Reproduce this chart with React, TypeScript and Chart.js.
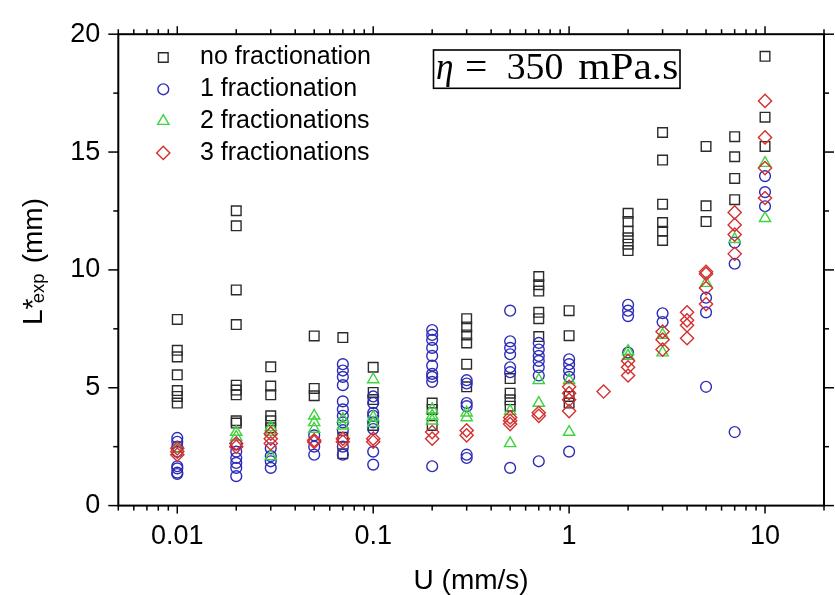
import React, { useEffect, useRef } from "react";
import { Chart, registerables } from "chart.js";

Chart.register(...registerables);

// ---------- data ----------
const xTickValues = [0.01, 0.1, 1, 10];
const xTickLabels = ["0.01", "0.1", "1", "10"];
const yTickValues = [0, 5, 10, 15, 20];

const seriesNames = ["no fractionation", "1 fractionation", "2 fractionations", "3 fractionations"];
const seriesColors = ["#2b2b2b", "#2c2cb8", "#3fd33f", "#d43030"];
const seriesShapes = ["rect", "circle", "triangle", "rectRot"];

// no fractionation (squares)
const noFracU = [
  0.01, 0.01, 0.01, 0.01, 0.01, 0.01, 0.01,
  0.02, 0.02, 0.02, 0.02, 0.02, 0.02, 0.02, 0.02, 0.02,
  0.03, 0.03, 0.03, 0.03, 0.03, 0.03,
  0.05, 0.05, 0.05,
  0.07, 0.07, 0.07,
  0.1, 0.1, 0.1, 0.1,
  0.2, 0.2, 0.2,
  0.3, 0.3, 0.3, 0.3, 0.3, 0.3,
  0.5, 0.5, 0.5, 0.5,
  0.7, 0.7, 0.7, 0.7, 0.7, 0.7,
  1, 1, 1, 1,
  2, 2, 2, 2, 2, 2,
  3, 3, 3, 3, 3, 3,
  5, 5, 5,
  7, 7, 7, 7,
  10, 10, 10,
];
const noFracL = [
  7.9, 6.59, 6.31, 5.55, 4.88, 4.63, 4.35,
  12.51, 11.87, 9.15, 7.68, 5.11, 4.9, 4.7, 3.6, 3.5,
  5.89, 5.07, 4.7, 3.81, 3.6, 3.3,
  7.2, 4.97, 4.66,
  7.13, 2.9, 2.2,
  5.87, 4.8, 4.5, 3.4,
  4.35, 4.08, 3.4,
  7.93, 7.58, 7.24, 6.9, 6.0, 5.04,
  5.39, 4.77, 4.49, 4.22,
  9.72, 9.37, 9.1, 8.2, 7.93, 7.17,
  8.27, 7.21, 4.63, 4.35,
  12.4, 12.05, 11.64, 11.36, 11.09, 10.82,
  15.83, 14.66, 12.79, 12.01, 11.64, 11.25,
  15.24, 12.72, 12.05,
  15.65, 14.8, 13.88, 12.98,
  19.06, 16.48, 15.24,
];

// 1 fractionation (circles)
const oneFracU = [
  0.01, 0.01, 0.01, 0.01, 0.01, 0.01, 0.01, 0.01,
  0.02, 0.02, 0.02, 0.02, 0.02, 0.02,
  0.03, 0.03, 0.03, 0.03,
  0.05, 0.05, 0.05,
  0.07, 0.07, 0.07, 0.07, 0.07, 0.07, 0.07, 0.07, 0.07, 0.07, 0.07,
  0.1, 0.1, 0.1, 0.1, 0.1, 0.1, 0.1, 0.1,
  0.2, 0.2, 0.2, 0.2, 0.2, 0.2, 0.2, 0.2, 0.2, 0.2,
  0.3, 0.3, 0.3, 0.3, 0.3, 0.3,
  0.5, 0.5, 0.5, 0.5, 0.5, 0.5, 0.5,
  0.7, 0.7, 0.7, 0.7, 0.7, 0.7, 0.7,
  1, 1, 1, 1, 1,
  2, 2, 2, 2,
  3, 3,
  5, 5, 5,
  7, 7, 7,
  10, 10, 10,
];
const oneFracL = [
  2.87, 2.71, 2.5, 2.29, 1.67, 1.58, 1.4, 1.34,
  2.6, 2.29, 2.02, 1.81, 1.6, 1.25,
  2.43, 2.1, 1.88, 1.6,
  2.98, 2.5, 2.16,
  6.0, 5.73, 5.46, 5.11, 4.42, 4.08, 3.81, 3.53, 3.2, 2.5, 2.16,
  4.63, 4.35, 3.94, 3.81, 3.53, 3.25, 2.29, 1.74,
  7.45, 7.24, 7.03, 6.69, 6.35, 5.94, 5.59, 5.46, 5.25, 1.67,
  5.32, 5.18, 4.35, 4.22, 2.16, 2.02,
  8.27, 6.97, 6.69, 6.42, 5.87, 5.66, 1.6,
  6.9, 6.62, 6.35, 6.14, 5.87, 5.52, 1.88,
  6.21, 6.0, 5.73, 5.46, 2.29,
  8.52, 8.27, 8.04, 6.49,
  8.16, 7.79,
  8.82, 8.2, 5.04,
  11.16, 10.26, 3.12,
  13.98, 13.3, 12.7,
];

// 2 fractionations (triangles)
const twoFracU = [
  0.01,
  0.02, 0.02,
  0.03, 0.03, 0.03,
  0.05, 0.05, 0.05,
  0.07, 0.07,
  0.1, 0.1, 0.1,
  0.2, 0.2, 0.2,
  0.3, 0.3,
  0.5, 0.5,
  0.7, 0.7,
  1, 1,
  2, 2,
  3, 3,
  5,
  7,
  10, 10,
];
const twoFracL = [
  2.4,
  3.12, 2.91,
  3.32, 3.12, 2.09,
  3.81, 3.53, 3.25,
  3.67, 3.39,
  5.35, 3.75, 3.5,
  4.08, 3.81, 3.6,
  3.94, 3.74,
  4.01, 2.64,
  5.32, 4.35,
  5.32, 3.12,
  6.55, 6.35,
  7.24, 6.49,
  9.44,
  11.3,
  14.53, 12.19,
];

// 3 fractionations (diamonds)
const threeFracU = [
  0.01, 0.01, 0.01,
  0.02, 0.02,
  0.03, 0.03, 0.03,
  0.05, 0.05,
  0.07, 0.07,
  0.1, 0.1,
  0.2, 0.2,
  0.3, 0.3,
  0.5, 0.5, 0.5,
  0.7, 0.7,
  1, 1, 1, 1,
  1.5,
  2, 2, 2,
  3, 3, 3,
  4, 4, 4, 4,
  5, 5, 5, 5,
  7, 7, 7, 7,
  10, 10, 10, 10,
];
const threeFracL = [
  2.43, 2.29, 2.16,
  2.64, 2.5,
  3.05, 2.84, 2.64,
  2.77, 2.7,
  2.84, 2.71,
  2.84, 2.71,
  3.12, 2.84,
  3.19, 2.98,
  3.74, 3.6, 3.46,
  3.94, 3.81,
  5.04, 4.77, 4.49, 4.01,
  4.84,
  6.14, 5.87, 5.52,
  7.38, 7.04, 6.62,
  8.2, 7.86, 7.65, 7.1,
  9.92, 9.83, 9.23, 8.55,
  12.44, 11.91, 11.5, 10.68,
  17.17, 15.62, 14.32, 13.05,
];

const seriesU = [noFracU, oneFracU, twoFracU, threeFracU];
const seriesL = [noFracL, oneFracL, twoFracL, threeFracL];
const seriesRadius = [6.8, 5.4, 6.5, 6.6];

const SANS = "'Liberation Sans', Arial, sans-serif";
const SERIF = "'Liberation Serif', 'Times New Roman', serif";

function drawMarker(ctx: CanvasRenderingContext2D, shape: string, x: number, y: number, r: number, color: string) {
  ctx.save();
  ctx.strokeStyle = color;
  ctx.lineWidth = 1.4;
  ctx.beginPath();
  if (shape === "rect") {
    const s = Math.SQRT1_2 * r;
    ctx.rect(x - s, y - s, 2 * s, 2 * s);
  } else if (shape === "circle") {
    ctx.arc(x, y, r, 0, Math.PI * 2);
  } else if (shape === "triangle") {
    for (let i = 0; i < 3; i++) {
      const a = (i * 2 * Math.PI) / 3;
      const px = x + Math.sin(a) * r;
      const py = y - Math.cos(a) * r;
      if (i === 0) ctx.moveTo(px, py);
      else ctx.lineTo(px, py);
    }
    ctx.closePath();
  } else {
    ctx.moveTo(x, y - r);
    ctx.lineTo(x + r, y);
    ctx.lineTo(x, y + r);
    ctx.lineTo(x - r, y);
    ctx.closePath();
  }
  ctx.stroke();
  ctx.restore();
}

function stretchText(ctx: CanvasRenderingContext2D, text: string, x: number, y: number, width: number) {
  const w = ctx.measureText(text).width;
  ctx.save();
  ctx.translate(x, y);
  ctx.scale(width / w, 1);
  ctx.fillText(text, 0, 0);
  ctx.restore();
}

const decorPlugin = {
  id: "decor",
  afterDraw(chart: any) {
    const { ctx, chartArea: a, scales } = chart;
    const xs = scales.x;
    const ys = scales.y;
    ctx.save();
    ctx.strokeStyle = "#000";
    ctx.fillStyle = "#000";

    // frame
    ctx.lineWidth = 2;
    ctx.strokeRect(a.left, a.top, a.right - a.left, a.bottom - a.top);

    // ticks
    ctx.lineWidth = 1.5;
    const line = (x1: number, y1: number, x2: number, y2: number) => {
      ctx.beginPath();
      ctx.moveTo(x1, y1);
      ctx.lineTo(x2, y2);
      ctx.stroke();
    };
    for (let d = -3; d <= 1; d++) {
      for (let k = 1; k <= 9; k++) {
        const v = k * Math.pow(10, d);
        if (v < xs.min * 0.999 || v > xs.max * 1.001) continue;
        const px = xs.getPixelForValue(v);
        const len = k === 1 ? 8 : 5;
        line(px, a.bottom, px, a.bottom + len);
        line(px, a.top, px, a.top - len);
      }
    }
    for (let v = 0; v <= 20; v += 2.5) {
      const py = ys.getPixelForValue(v);
      const len = v % 5 === 0 ? 10 : 5;
      line(a.left - len, py, a.left, py);
      line(a.right, py, a.right + len, py);
    }

    // x title
    ctx.font = `28px ${SANS}`;
    ctx.textAlign = "center";
    ctx.textBaseline = "alphabetic";
    ctx.fillText("U (mm/s)", (a.left + a.right) / 2, 588.5);

    // y title
    ctx.save();
    ctx.translate(41.7, 325);
    ctx.rotate(-Math.PI / 2);
    ctx.textAlign = "left";
    ctx.font = `28px ${SANS}`;
    ctx.fillText("L*", 0, 0);
    ctx.font = `18.5px ${SANS}`;
    ctx.fillText("exp", 21.7, 2.5);
    ctx.font = `28px ${SANS}`;
    ctx.fillText("(mm)", 61.7, 0);
    ctx.restore();

    // legend
    ctx.font = `25px ${SANS}`;
    ctx.textAlign = "left";
    ctx.textBaseline = "middle";
    for (let i = 0; i < seriesNames.length; i++) {
      const y = 57.5 + i * 31.8;
      drawMarker(ctx, seriesShapes[i], 163.3, y, seriesRadius[i], seriesColors[i]);
      ctx.fillStyle = "#000";
      ctx.fillText(seriesNames[i], 200, y);
    }

    // annotation box
    ctx.lineWidth = 1.6;
    ctx.strokeRect(433.5, 50, 246.5, 38.3);
    ctx.textBaseline = "alphabetic";
    ctx.textAlign = "left";
    ctx.font = `italic 37px ${SERIF}`;
    stretchText(ctx, "\u03b7", 436, 79, 17.5);
    ctx.font = `37px ${SERIF}`;
    stretchText(ctx, "=", 465, 79, 22.3);
    stretchText(ctx, "350", 506.7, 79, 56.6);
    stretchText(ctx, "mPa.s", 578.3, 79, 100);

    ctx.restore();
  },
};

export default function App() {
  const ref = useRef<HTMLCanvasElement | null>(null);

  useEffect(() => {
    if (!ref.current) return;
    const datasets = seriesNames.map((name, i) => ({
      label: name,
      data: seriesU[i].map((u, j) => ({ x: u, y: seriesL[i][j] })),
      pointStyle: seriesShapes[i],
      pointRadius: seriesRadius[i],
      pointHoverRadius: seriesRadius[i],
      pointBorderWidth: 1.4,
      borderColor: seriesColors[i],
      backgroundColor: "rgba(0,0,0,0)",
      pointBackgroundColor: "rgba(0,0,0,0)",
      showLine: false,
      order: seriesNames.length - 1 - i,
    }));

    const chart = new Chart(ref.current, {
      type: "scatter",
      data: { datasets },
      options: {
        responsive: false,
        animation: false,
        layout: { padding: { left: 0, right: 11, top: 20.6, bottom: 0 } },
        plugins: {
          legend: { display: false },
          tooltip: { enabled: false },
        },
        scales: {
          x: {
            type: "logarithmic",
            min: 0.005,
            max: 20,
            grid: { display: false, drawTicks: false },
            border: { display: false },
            afterBuildTicks: (scale: any) => {
              scale.ticks = xTickValues.map((v) => ({ value: v }));
            },
            afterFit: (scale: any) => {
              scale.height = 89.4;
            },
            ticks: {
              autoSkip: false,
              maxRotation: 0,
              padding: 15,
              color: "#000",
              font: { family: SANS, size: 27 },
              callback: (value: any) => {
                const idx = xTickValues.findIndex((v) => Math.abs(v - Number(value)) < 1e-9);
                return idx >= 0 ? xTickLabels[idx] : "";
              },
            },
          },
          y: {
            type: "linear",
            min: 0,
            max: 20,
            grid: { display: false, drawTicks: false },
            border: { display: false },
            afterBuildTicks: (scale: any) => {
              scale.ticks = yTickValues.map((v) => ({ value: v }));
            },
            afterFit: (scale: any) => {
              scale.width = 118.3;
            },
            ticks: {
              padding: 18,
              color: "#000",
              font: { family: SANS, size: 27 },
              callback: (value: any) => String(value),
            },
          },
        },
      },
      plugins: [decorPlugin],
    } as any);

    return () => chart.destroy();
  }, []);

  return (
    <div style={{ position: "absolute", left: 0, top: 0, width: 835, height: 595, background: "#fff" }}>
      <canvas ref={ref} width={835} height={595} style={{ display: "block" }} />
    </div>
  );
}
